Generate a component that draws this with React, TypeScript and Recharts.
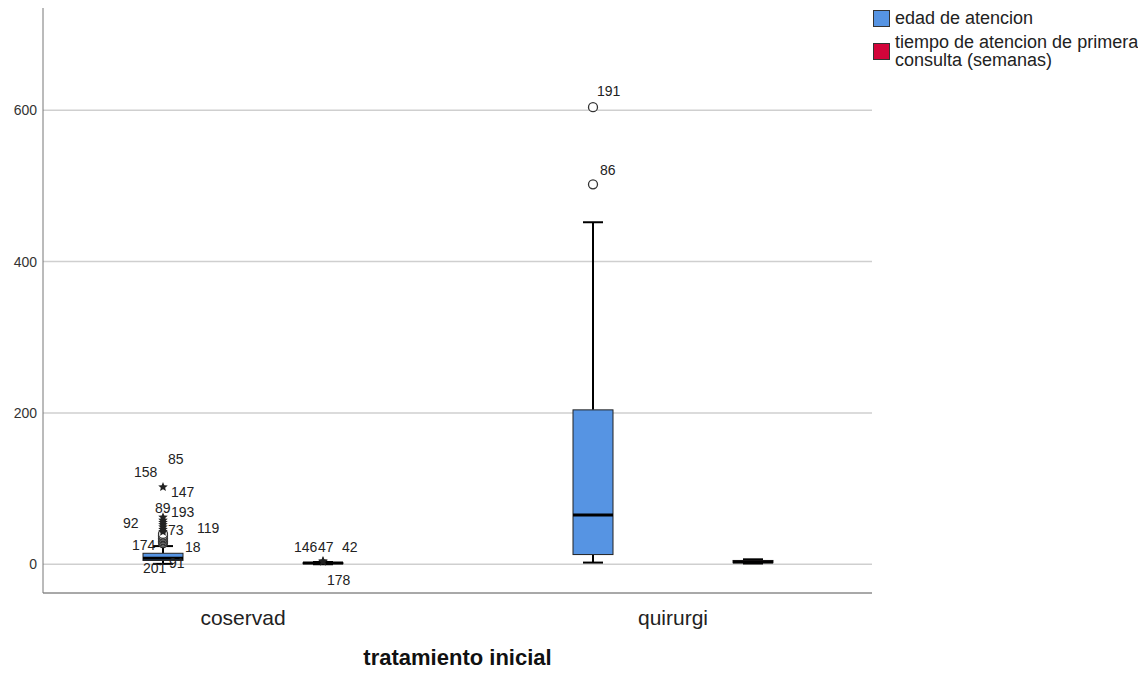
import { ComposedChart, Bar, XAxis, YAxis, CartesianGrid, Legend, Label } from 'recharts';

const categories = ['coservad', 'quirurgi'];

// [whisker low, q1, median, q3, whisker high] per category
const edadStats = [
  [0.5, 5, 8, 14.5, 24],
  [2.2, 12.8, 65, 204, 452],
];
const tiempoStats = [
  [0, 1, 1.5, 2, 3],
  [1, 2, 3, 5, 6.5],
];

// outliers (o) and extremes (*) per category
const edadOutliers = [
  [
    { value: 28, kind: 'o' }, { value: 30, kind: 'o' }, { value: 32, kind: 'o' },
    { value: 34, kind: 'o' }, { value: 36, kind: 'o' }, { value: 38, kind: 'o' },
    { value: 40, kind: 'o' }, { value: 43, kind: '*' }, { value: 46, kind: '*' },
    { value: 49, kind: '*' }, { value: 52, kind: '*' }, { value: 55, kind: '*' },
    { value: 58, kind: '*' }, { value: 62, kind: '*' }, { value: 102, kind: '*' },
  ],
  [
    { value: 502, kind: 'o' },
    { value: 604, kind: 'o' },
  ],
];
const tiempoOutliers = [
  [{ value: 3.5, kind: '*' }, { value: 4.2, kind: '*' }],
  [],
];

// case labels next to the outliers
const edadLabels = [
  [
    { text: '85', value: 139 }, { text: '158', value: 122 }, { text: '147', value: 95 },
    { text: '89', value: 74 }, { text: '193', value: 69 }, { text: '92', value: 54 },
    { text: '73', value: 45 }, { text: '119', value: 48 }, { text: '174', value: 25 },
    { text: '18', value: 22.5 }, { text: '201', value: -5.3 }, { text: '91', value: 1.3 },
  ],
  [
    { text: '191', value: 625 },
    { text: '86', value: 521 },
  ],
];
const tiempoLabels = [
  [
    { text: '146', value: 22.5 }, { text: '47', value: 22.5 },
    { text: '42', value: 22.5 }, { text: '178', value: -21 },
  ],
  [],
];

const yTicks = [0, 200, 400, 600];

// horizontal nudge of each case label from the box centre (px)
const LABEL_DX: Record<string, number> = {
  '85': 5, '158': -29, '147': 8, '89': -8, '193': 8, '92': -40, '73': 5,
  '119': 34, '174': -31, '18': 22, '201': -20, '91': 6,
  '191': 4, '86': 7,
  '146': -29, '47': -5, '42': 19, '178': 4,
};

const BLUE = '#5694e3';
const RED = '#d3043a';

const data = categories.map((cat, i) => ({
  cat,
  edad: [edadStats[i][0], edadStats[i][4]],
  tiempo: [tiempoStats[i][0], tiempoStats[i][4]],
}));

function starPath(cx: number, cy: number, r: number) {
  const pts: string[] = [];
  for (let k = 0; k < 10; k++) {
    const rad = k % 2 === 0 ? r : r * 0.45;
    const a = -Math.PI / 2 + (k * Math.PI) / 5;
    pts.push(`${cx + rad * Math.cos(a)},${cy + rad * Math.sin(a)}`);
  }
  return `M${pts.join('L')}Z`;
}

function makeBoxShape(stats: number[][], outliers: any[][], labels: any[][], fill: string) {
  return (props: any) => {
    const { x, y, width, height, index } = props;
    const [lo, q1, med, q3, hi] = stats[index];
    const top = Math.min(y, y + height);
    const bottom = Math.max(y, y + height);
    const px = (v: number) => bottom - ((v - lo) / (hi - lo)) * (bottom - top);
    const cx = x + width / 2;
    const cap = width / 4;
    return (
      <g>
        <line x1={cx} x2={cx} y1={px(hi)} y2={px(q3)} stroke="#000" strokeWidth={2} />
        <line x1={cx} x2={cx} y1={px(q1)} y2={px(lo)} stroke="#000" strokeWidth={2} />
        <line x1={cx - cap} x2={cx + cap} y1={px(hi)} y2={px(hi)} stroke="#000" strokeWidth={2} />
        <line x1={cx - cap} x2={cx + cap} y1={px(lo)} y2={px(lo)} stroke="#000" strokeWidth={2} />
        <rect x={x} y={px(q3)} width={width} height={Math.max(px(q1) - px(q3), 1)} fill={fill} stroke="#222" strokeWidth={1} />
        <line x1={x} x2={x + width} y1={px(med)} y2={px(med)} stroke="#000" strokeWidth={3} />
        {outliers[index].map((o: any, k: number) =>
          o.kind === 'o' ? (
            <circle key={k} cx={cx} cy={px(o.value)} r={4.5} fill="#fff" stroke="#333" strokeWidth={1.3} />
          ) : (
            <path key={k} d={starPath(cx, px(o.value), 5)} fill="#222" />
          )
        )}
        {labels[index].map((l: any) => (
          <text key={l.text} x={cx + (LABEL_DX[l.text] || 0)} y={px(l.value)} dominantBaseline="central" fontSize={14} fill="#222">
            {l.text}
          </text>
        ))}
      </g>
    );
  };
}

const legendItems = [
  { color: BLUE, lines: ['edad de atencion'] },
  { color: RED, lines: ['tiempo de atencion de primera', 'consulta (semanas)'] },
];

const LegendBox = () => (
  <div style={{ fontSize: 18, lineHeight: '18px', color: '#222' }}>
    {legendItems.map((it, i) => (
      <div key={i} style={{ display: 'flex', alignItems: 'center', marginBottom: 6 }}>
        <span style={{ width: 15, height: 15, background: it.color, border: '1px solid #333', marginRight: 5, flexShrink: 0 }} />
        <span>
          {it.lines.map((ln, j) => (
            <div key={j}>{ln}</div>
          ))}
        </span>
      </div>
    ))}
  </div>
);

export default function App() {
  return (
    <div style={{ margin: -8, fontFamily: '"Liberation Sans", Arial, sans-serif', background: '#fff' }}>
      <ComposedChart width={1146} height={675} data={data} margin={{ top: 5, right: 274, left: 0, bottom: 0 }} barSize={40} barGap={120}>
        <CartesianGrid vertical={false} stroke="#cfcfcf" strokeWidth={1.5} />
        <XAxis
          dataKey="cat"
          tickLine={false}
          tickSize={0}
          tickMargin={17}
          height={82}
          padding={{ left: -15, right: -16 }}
          axisLine={{ stroke: '#777' }}
          tick={{ fill: '#222', fontSize: 21 }}
        >
          <Label value="tratamiento inicial" position="insideBottom" offset={10} style={{ fontWeight: 'bold', fontSize: 22, fill: '#111' }} />
        </XAxis>
        <YAxis
          type="number"
          domain={[-38, 739]}
          ticks={yTicks}
          allowDataOverflow
          tickLine={false}
          tickSize={0}
          tickMargin={6}
          width={43}
          axisLine={{ stroke: '#777' }}
          tick={{ fill: '#333', fontSize: 14 }}
        />
        <Legend
          layout="vertical"
          align="center"
          verticalAlign="middle"
          wrapperStyle={{ top: 9, left: 873, width: 273 }}
          content={() => <LegendBox />}
        />
        <Bar dataKey="edad" name="edad de atencion" fill={BLUE} isAnimationActive={false}
          shape={makeBoxShape(edadStats, edadOutliers, edadLabels, BLUE)} />
        <Bar dataKey="tiempo" name="tiempo de atencion de primera consulta (semanas)" fill={RED} isAnimationActive={false}
          shape={makeBoxShape(tiempoStats, tiempoOutliers, tiempoLabels, RED)} />
      </ComposedChart>
    </div>
  );
}
